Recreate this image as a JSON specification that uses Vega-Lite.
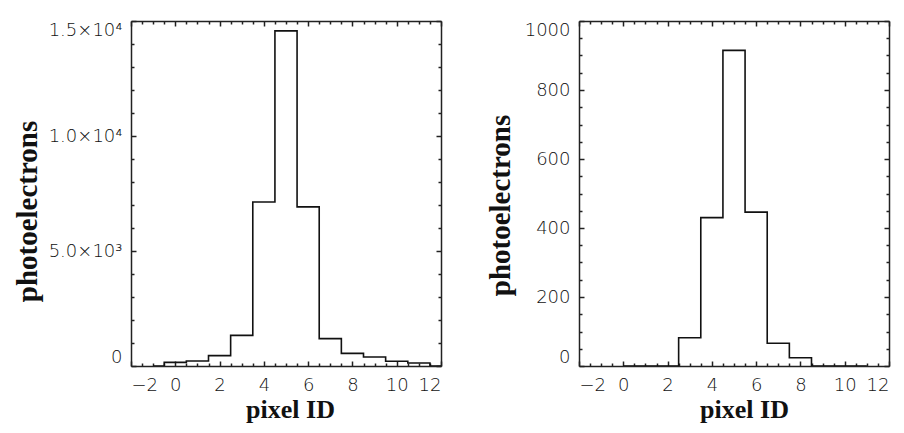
{
  "$schema": "https://vega.github.io/schema/vega-lite/v6.json",
  "padding": {"left": 13, "top": 20, "right": 5, "bottom": 5},
  "background": "white",
  "spacing": 44,
  "config": {
    "view": {"stroke": null},
    "axis": {
      "grid": false,
      "labelFont": "DejaVu Sans",
      "labelFontWeight": 200,
      "labelFontSize": 18,
      "labelColor": "#111",
      "titleFont": "Liberation Serif",
      "titleFontWeight": "bold",
      "titleFontSize": 29,
      "titleColor": "#111",
      "tickColor": "#222",
      "tickWidth": 1.5,
      "domainColor": "#222",
      "domainWidth": 1.5
    }
  },
  "datasets": {
    "left": [
      {"pixel": -1, "pe": 0},
      {"pixel": 0, "pe": 157},
      {"pixel": 1, "pe": 217},
      {"pixel": 2, "pe": 450},
      {"pixel": 3, "pe": 1330},
      {"pixel": 4, "pe": 7130},
      {"pixel": 5, "pe": 14570},
      {"pixel": 6, "pe": 6920},
      {"pixel": 7, "pe": 1190},
      {"pixel": 8, "pe": 550},
      {"pixel": 9, "pe": 390},
      {"pixel": 10, "pe": 205},
      {"pixel": 11, "pe": 130},
      {"pixel": 12, "pe": 0}
    ],
    "right": [
      {"pixel": 0, "pe": 0},
      {"pixel": 1, "pe": 0},
      {"pixel": 2, "pe": 0},
      {"pixel": 3, "pe": 82},
      {"pixel": 4, "pe": 430},
      {"pixel": 5, "pe": 915},
      {"pixel": 6, "pe": 446},
      {"pixel": 7, "pe": 66},
      {"pixel": 8, "pe": 24},
      {"pixel": 9, "pe": 0},
      {"pixel": 10, "pe": 0},
      {"pixel": 11, "pe": 0}
    ]
  },
  "hconcat": [
    {
      "width": 310,
      "height": 345,
      "data": {"name": "left"},
      "resolve": {"axis": {"x": "independent", "y": "independent"}},
      "layer": [
        {
          "mark": {"type": "line", "interpolate": "step", "color": "#111", "strokeWidth": 1.6, "clip": true},
          "encoding": {
            "x": {"field": "pixel", "type": "quantitative", "scale": {"domain": [-2, 12], "nice": false},
              "axis": {"orient": "bottom", "values": [-2, 0, 2, 4, 6, 8, 10, 12], "tickSize": -5, "labelPadding": 15, "title": "pixel ID", "titleFontSize": 26, "titleX": 159, "titleY": 51, "titleBaseline": "alphabetic"}},
            "y": {"field": "pe", "type": "quantitative", "scale": {"domain": [0, 15000], "nice": false},
              "axis": {"orient": "left", "values": [0, 5000, 10000, 15000], "tickSize": -5, "labelPadding": 14, "labelFlush": true,
                "labelExpr": "datum.value == 0 ? '0' : datum.value == 5000 ? '5.0×10³' : datum.value == 10000 ? '1.0×10⁴' : '1.5×10⁴'",
                "title": "photoelectrons", "titleX": -104, "titleY": 190, "titleBaseline": "middle"}}
          }
        },
        {
          "mark": {"type": "line", "opacity": 0},
          "encoding": {
            "x": {"field": "pixel", "type": "quantitative", "scale": {"domain": [-2, 12], "nice": false},
              "axis": {"orient": "bottom", "values": [-1.5, -1, -0.5, 0.5, 1, 1.5, 2.5, 3, 3.5, 4.5, 5, 5.5, 6.5, 7, 7.5, 8.5, 9, 9.5, 10.5, 11, 11.5], "tickSize": -3, "labels": false, "domain": false, "title": null}},
            "y": {"field": "pe", "type": "quantitative", "scale": {"domain": [0, 15000], "nice": false},
              "axis": {"orient": "left", "values": [1000, 2000, 3000, 4000, 6000, 7000, 8000, 9000, 11000, 12000, 13000, 14000], "tickSize": -3, "labels": false, "domain": false, "title": null}}
          }
        },
        {
          "mark": {"type": "line", "opacity": 0},
          "encoding": {
            "x": {"field": "pixel", "type": "quantitative", "scale": {"domain": [-2, 12], "nice": false},
              "axis": {"orient": "top", "values": [-2, 0, 2, 4, 6, 8, 10, 12], "tickSize": -5, "labels": false, "title": null}},
            "y": {"field": "pe", "type": "quantitative", "scale": {"domain": [0, 15000], "nice": false},
              "axis": {"orient": "right", "values": [0, 5000, 10000, 15000], "tickSize": -5, "labels": false, "title": null}}
          }
        },
        {
          "mark": {"type": "line", "opacity": 0},
          "encoding": {
            "x": {"field": "pixel", "type": "quantitative", "scale": {"domain": [-2, 12], "nice": false},
              "axis": {"orient": "top", "values": [-1.5, -1, -0.5, 0.5, 1, 1.5, 2.5, 3, 3.5, 4.5, 5, 5.5, 6.5, 7, 7.5, 8.5, 9, 9.5, 10.5, 11, 11.5], "tickSize": -3, "labels": false, "domain": false, "title": null}},
            "y": {"field": "pe", "type": "quantitative", "scale": {"domain": [0, 15000], "nice": false},
              "axis": {"orient": "right", "values": [1000, 2000, 3000, 4000, 6000, 7000, 8000, 9000, 11000, 12000, 13000, 14000], "tickSize": -3, "labels": false, "domain": false, "title": null}}
          }
        }
      ]
    },
    {
      "width": 310,
      "height": 345,
      "data": {"name": "right"},
      "resolve": {"axis": {"x": "independent", "y": "independent"}},
      "layer": [
        {
          "mark": {"type": "line", "interpolate": "step", "color": "#111", "strokeWidth": 1.6, "clip": true},
          "encoding": {
            "x": {"field": "pixel", "type": "quantitative", "scale": {"domain": [-2, 12], "nice": false},
              "axis": {"orient": "bottom", "values": [-2, 0, 2, 4, 6, 8, 10, 12], "tickSize": -5, "labelPadding": 15, "title": "pixel ID", "titleFontSize": 26, "titleX": 165, "titleY": 51, "titleBaseline": "alphabetic"}},
            "y": {"field": "pe", "type": "quantitative", "scale": {"domain": [0, 1000], "nice": false},
              "axis": {"orient": "left", "values": [0, 200, 400, 600, 800, 1000], "format": "d", "tickSize": -5, "labelPadding": 14, "labelFlush": true,
                "title": "photoelectrons", "titleX": -79, "titleY": 184, "titleBaseline": "middle"}}
          }
        },
        {
          "mark": {"type": "line", "opacity": 0},
          "encoding": {
            "x": {"field": "pixel", "type": "quantitative", "scale": {"domain": [-2, 12], "nice": false},
              "axis": {"orient": "bottom", "values": [-1.5, -1, -0.5, 0.5, 1, 1.5, 2.5, 3, 3.5, 4.5, 5, 5.5, 6.5, 7, 7.5, 8.5, 9, 9.5, 10.5, 11, 11.5], "tickSize": -3, "labels": false, "domain": false, "title": null}},
            "y": {"field": "pe", "type": "quantitative", "scale": {"domain": [0, 1000], "nice": false},
              "axis": {"orient": "left", "values": [50, 100, 150, 250, 300, 350, 450, 500, 550, 650, 700, 750, 850, 900, 950], "tickSize": -3, "labels": false, "domain": false, "title": null}}
          }
        },
        {
          "mark": {"type": "line", "opacity": 0},
          "encoding": {
            "x": {"field": "pixel", "type": "quantitative", "scale": {"domain": [-2, 12], "nice": false},
              "axis": {"orient": "top", "values": [-2, 0, 2, 4, 6, 8, 10, 12], "tickSize": -5, "labels": false, "title": null}},
            "y": {"field": "pe", "type": "quantitative", "scale": {"domain": [0, 1000], "nice": false},
              "axis": {"orient": "right", "values": [0, 200, 400, 600, 800, 1000], "tickSize": -5, "labels": false, "title": null}}
          }
        },
        {
          "mark": {"type": "line", "opacity": 0},
          "encoding": {
            "x": {"field": "pixel", "type": "quantitative", "scale": {"domain": [-2, 12], "nice": false},
              "axis": {"orient": "top", "values": [-1.5, -1, -0.5, 0.5, 1, 1.5, 2.5, 3, 3.5, 4.5, 5, 5.5, 6.5, 7, 7.5, 8.5, 9, 9.5, 10.5, 11, 11.5], "tickSize": -3, "labels": false, "domain": false, "title": null}},
            "y": {"field": "pe", "type": "quantitative", "scale": {"domain": [0, 1000], "nice": false},
              "axis": {"orient": "right", "values": [50, 100, 150, 250, 300, 350, 450, 500, 550, 650, 700, 750, 850, 900, 950], "tickSize": -3, "labels": false, "domain": false, "title": null}}
          }
        }
      ]
    }
  ]
}
